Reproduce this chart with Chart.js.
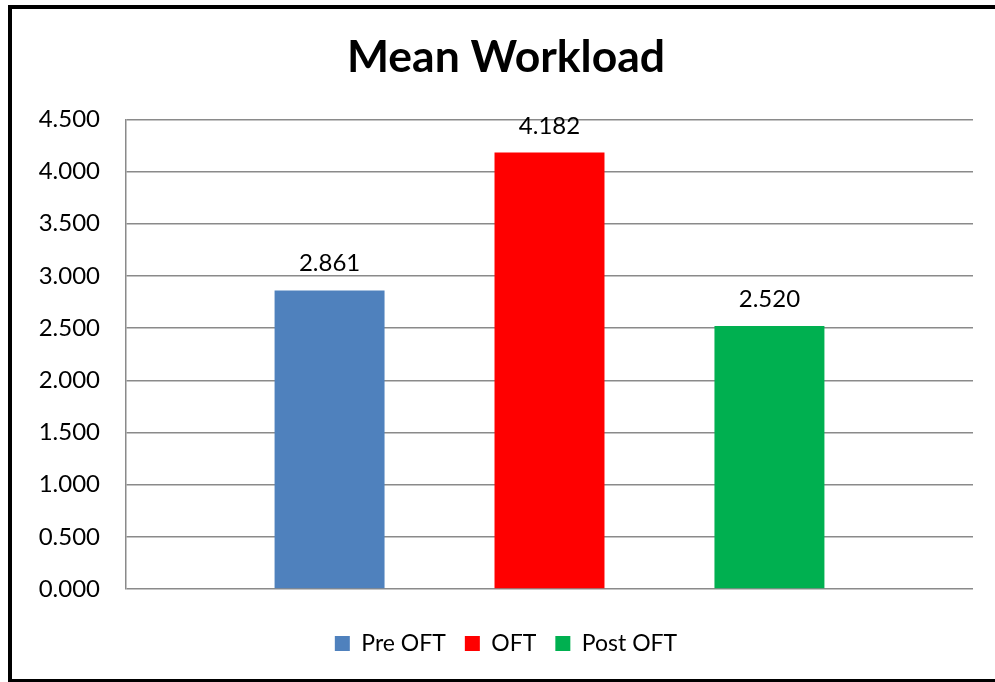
<!DOCTYPE html>
<html>
<head>
<meta charset="utf-8">
<script src="https://cdn.jsdelivr.net/npm/chart.js@4"></script>
<style>
  html, body { margin: 0; padding: 0; background: #fff; overflow: hidden; }
  #wrap { position: relative; width: 995px; height: 682px; }
  #marco {
    position: absolute; left: 8px; top: 5px; width: 1100px; height: 670px;
    border: 4px solid #000; pointer-events: none;
  }
</style>
</head>
<body>
<div id="wrap">
  <canvas id="myChart" width="995" height="682"></canvas>
  <div id="marco"></div>
</div>
<script>
// datos
const categorias = [""];
const series = ["Pre OFT", "OFT", "Post OFT"];
const valores = [2.861, 4.182, 2.520];
const colores = ["#4f81bd", "#ff0000", "#00b050"];
const ticksY = [0, 0.5, 1, 1.5, 2, 2.5, 3, 3.5, 4, 4.5];

const fuente = "Lato, 'Liberation Sans', sans-serif";

// etiquetas de valor encima de cada barra
const etiquetasValor = {
  id: "etiquetasValor",
  afterDatasetsDraw(chart) {
    const ctx = chart.ctx;
    ctx.save();
    ctx.font = "24px " + fuente;
    ctx.fillStyle = "#000";
    ctx.textAlign = "center";
    ctx.textBaseline = "alphabetic";
    chart.data.datasets.forEach((ds, i) => {
      const meta = chart.getDatasetMeta(i);
      meta.data.forEach((bar, j) => {
        ctx.fillText(Number(ds.data[j]).toFixed(3), bar.x, bar.y - 19);
      });
    });
    ctx.restore();
  },
};

const config = {
  type: "bar",
  data: {
    labels: categorias,
    datasets: series.map((nombre, i) => ({
      label: nombre,
      data: [valores[i]],
      backgroundColor: colores[i],
      borderWidth: 0,
      categoryPercentage: 0.779,
      barPercentage: 0.5,
    })),
  },
  options: {
    responsive: false,
    animation: false,
    layout: { padding: { left: 39, right: 22, top: 10, bottom: 17 } },
    plugins: {
      title: {
        display: true,
        text: "Mean Workload",
        color: "#000",
        font: { family: fuente, size: 44.5, weight: "bold" },
        padding: { top: 21, bottom: 35 },
      },
      legend: {
        position: "bottom",
        labels: {
          color: "#000",
          boxWidth: 15,
          boxHeight: 15,
          padding: 19,
          font: { family: fuente, size: 23 },
        },
      },
      tooltip: { enabled: false },
    },
    scales: {
      x: {
        // eje invisible, solo deja espacio sobre la leyenda
        afterFit(scale) { scale.height = 24; },
        ticks: { display: false },
        grid: { display: false },
        border: { display: false },
      },
      y: {
        min: 0,
        max: 4.5,
        afterFit(scale) { scale.width = 87; },
        afterBuildTicks(scale) { scale.ticks = ticksY.map((v) => ({ value: v })); },
        ticks: {
          color: "#000",
          padding: 26,
          font: { family: fuente, size: 24 },
          callback: (v) => Number(v).toFixed(3),
        },
        grid: { color: "#8a8a8a", lineWidth: 1.5, drawTicks: false },
        border: { display: true, color: "#8a8a8a", width: 1.5 },
      },
    },
  },
  plugins: [etiquetasValor],
};

new Chart(document.getElementById("myChart"), config);
</script>
</body>
</html>
